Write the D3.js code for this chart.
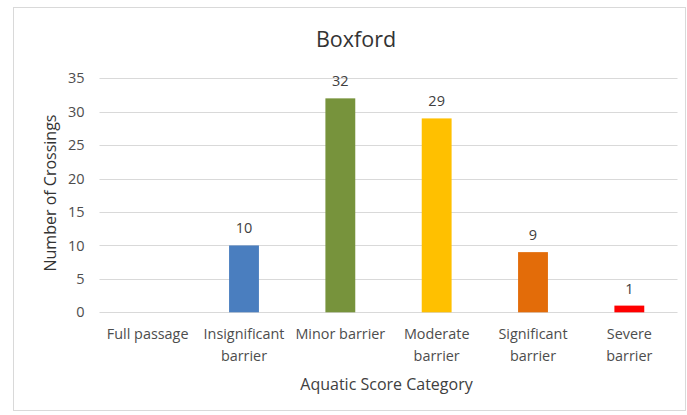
<!DOCTYPE html>
<html>
<head>
<meta charset="utf-8">
<script src="https://cdn.jsdelivr.net/npm/d3@7"></script>
<style>
  body { margin: 0; background: #fff; }
  text { font-family: "Open Sans", sans-serif; }
</style>
</head>
<body>
<svg id="chart" width="687" height="415"></svg>
<script>
// Data
var categories = ["Full passage", "Insignificant barrier", "Minor barrier",
                  "Moderate barrier", "Significant barrier", "Severe barrier"];
var counts = [0, 10, 32, 29, 9, 1];
var barColors = ["#4a7ebf", "#4a7ebf", "#77933c", "#ffc000", "#e36c09", "#ff0000"];
var yTicks = [0, 5, 10, 15, 20, 25, 30, 35];

var chartTitle = "Boxford";
var xTitle = "Aquatic Score Category";
var yTitle = "Number of Crossings";

var svg = d3.select("#chart");

// light frame round the chart area
svg.append("rect")
  .attr("x", 13.5).attr("y", 7.5)
  .attr("width", 672).attr("height", 403)
  .attr("fill", "#fff")
  .attr("stroke", "#d9d9d9");

var plot = { left: 99.5, right: 677.5, top: 78.3, bottom: 312.3 };

var x = d3.scaleBand()
  .domain(categories)
  .range([plot.left, plot.right])
  .paddingInner(0.69)
  .paddingOuter(0.345);

var y = d3.scaleLinear()
  .domain([0, 35])
  .range([plot.bottom, plot.top]);

// rows of the table the marks are drawn from
var rows = categories.map(function(c, i) {
  return { cat: c, value: counts[i], color: barColors[i] };
});

// gridlines
svg.append("g")
  .selectAll("line")
  .data(yTicks)
  .join("line")
  .attr("x1", plot.left).attr("x2", plot.right)
  .attr("y1", function(d) { return Math.round(y(d)) + 0.5; })
  .attr("y2", function(d) { return Math.round(y(d)) + 0.5; })
  .attr("stroke", "#d9d9d9")
  .attr("stroke-width", 1);

// y axis labels
var yAxis = svg.append("g")
  .attr("transform", "translate(" + (plot.left - 15) + ",0)")
  .call(d3.axisLeft(y).tickValues(yTicks).tickSize(0).tickPadding(0));
yAxis.select(".domain").remove();
yAxis.selectAll("text")
  .attr("font-size", "14.5px")
  .attr("fill", "#4d4d4d")
  .attr("font-family", "Open Sans, sans-serif");

// bars
svg.append("g")
  .selectAll("rect")
  .data(rows)
  .join("rect")
  .attr("x", function(d) { return x(d.cat); })
  .attr("width", x.bandwidth())
  .attr("y", function(d) { return y(d.value); })
  .attr("height", function(d) { return y(0) - y(d.value); })
  .attr("fill", function(d) { return d.color; });

// data labels (no label where the count is zero)
svg.append("g")
  .selectAll("text")
  .data(rows.filter(function(d) { return d.value > 0; }))
  .join("text")
  .attr("x", function(d) { return x(d.cat) + x.bandwidth() / 2; })
  .attr("y", function(d) { return y(d.value) - 12; })
  .attr("text-anchor", "middle")
  .attr("font-size", "14.5px")
  .attr("fill", "#404040")
  .text(function(d) { return d.value; });

// x axis category labels, wrapped to the band step like Excel does
var xAxis = svg.append("g")
  .attr("transform", "translate(0," + plot.bottom + ")")
  .call(d3.axisBottom(x).tickSize(0).tickPadding(0));
xAxis.select(".domain").remove();
xAxis.selectAll("text").remove();

var maxW = x.step() - 2;
xAxis.selectAll(".tick").each(function(cat) {
  var t = d3.select(this).append("text")
    .attr("text-anchor", "middle")
    .attr("font-size", "14.4px")
    .attr("fill", "#4d4d4d");
  var words = cat.split(" ");
  var lines = [];
  var line = [];
  words.forEach(function(w) {
    line.push(w);
    t.text(line.join(" "));
    if (t.node().getComputedTextLength() > maxW && line.length > 1) {
      line.pop();
      lines.push(line.join(" "));
      line = [w];
    }
  });
  lines.push(line.join(" "));
  t.text(null);
  lines.forEach(function(l, i) {
    t.append("tspan").attr("x", 0).attr("y", 27 + i * 21.5).text(l);
  });
});

// chart title
svg.append("text")
  .attr("x", 356).attr("y", 47)
  .attr("text-anchor", "middle")
  .attr("font-size", "21.5px")
  .attr("fill", "#333")
  .text(chartTitle);

// axis titles
svg.append("text")
  .attr("x", 386.5).attr("y", 390)
  .attr("text-anchor", "middle")
  .attr("font-size", "16px")
  .attr("fill", "#404040")
  .text(xTitle);

svg.append("text")
  .attr("transform", "translate(55.5,193) rotate(-90)")
  .attr("text-anchor", "middle")
  .attr("font-size", "16px")
  .attr("fill", "#333")
  .text(yTitle);
</script>
</body>
</html>
